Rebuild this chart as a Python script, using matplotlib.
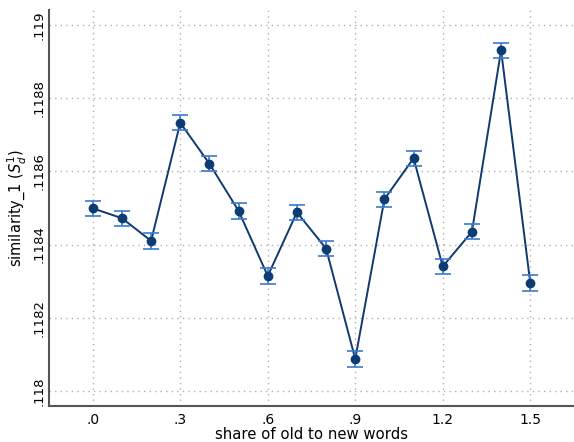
import matplotlib
matplotlib.use("Agg")
import matplotlib.pyplot as plt

# values
share = [0.0, 0.1, 0.2, 0.3, 0.4, 0.5, 0.6, 0.7, 0.8, 0.9, 1.0, 1.1, 1.2, 1.3, 1.4, 1.5]
similarity = [0.118499, 0.118472, 0.118410, 0.118733, 0.118621, 0.118492, 0.118314, 0.118488,
              0.118389, 0.118087, 0.118524, 0.118636, 0.118340, 0.118435, 0.118931, 0.118295]
ci_half = [0.000021, 0.000021, 0.000021, 0.000021, 0.000021, 0.000021, 0.000021, 0.000021,
           0.000021, 0.000021, 0.000021, 0.000021, 0.000021, 0.000021, 0.000021, 0.000021]

x_ticks = [0.0, 0.3, 0.6, 0.9, 1.2, 1.5]
x_labels = [".0", ".3", ".6", ".9", "1.2", "1.5"]
y_ticks = [0.118, 0.1182, 0.1184, 0.1186, 0.1188, 0.119]
y_labels = [".118", ".1182", ".1184", ".1186", ".1188", ".119"]

fig = plt.figure(figsize=(5.74, 4.42), dpi=100)
ax = fig.add_axes([0.0854, 0.082, 0.9146, 0.895])

# line first, then the CI caps, then the markers on top
ax.plot(share, similarity, color="#0e3a70", linewidth=1.4, zorder=2)
ax.errorbar(share, similarity, yerr=ci_half, fmt="none", ecolor="#3b7ad0",
            elinewidth=1.2, capsize=5.5, capthick=1.2, zorder=3)
ax.plot(share, similarity, linestyle="none", marker="o", markersize=6,
        markerfacecolor="#0d3b74", markeredgecolor="#0d3b74", zorder=4)

ax.set_xlim(-0.15, 1.65)
ax.set_ylim(0.117959, 0.119041)

ax.set_xticks(x_ticks)
ax.set_xticklabels(x_labels, fontsize=10)
ax.set_yticks(y_ticks)
ax.set_yticklabels(y_labels, fontsize=9.5, rotation=90, va="center")
ax.tick_params(axis="x", length=0, pad=5)
ax.tick_params(axis="y", length=0, pad=2.5)

ax.grid(True, color="#b0b0b0", linestyle=(0, (1, 3)), linewidth=1)
ax.set_axisbelow(True)

for side in ["top", "right"]:
    ax.spines[side].set_visible(False)
for side in ["left", "bottom"]:
    ax.spines[side].set_color("#555555")
    ax.spines[side].set_linewidth(1.5)

ax.set_xlabel("share of old to new words", fontsize=10.75, labelpad=0)
ax.set_ylabel("similarity_1 ($S_d^1$)", fontsize=10.5, labelpad=3)

fig.savefig("out.png", dpi=100)
